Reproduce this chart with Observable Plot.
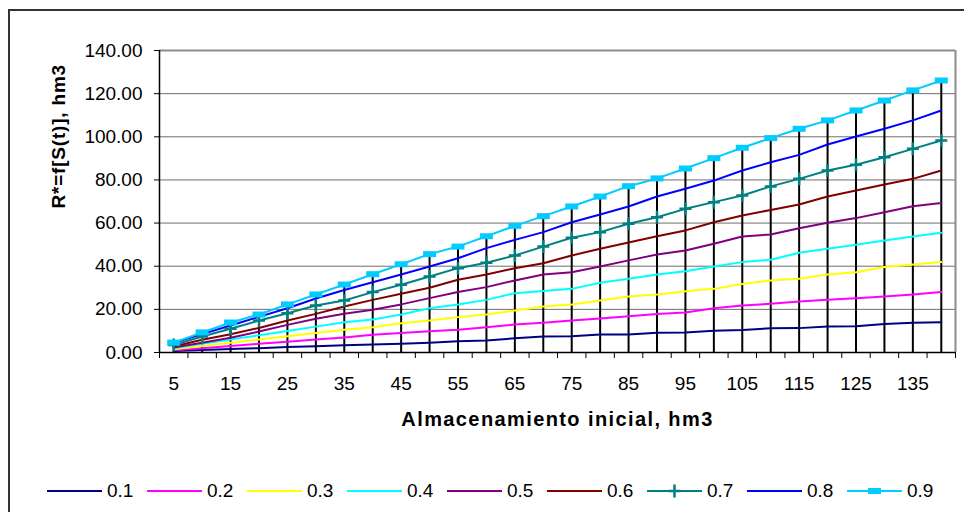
<!DOCTYPE html>
<html>
<head>
<meta charset="utf-8">
<script src="https://cdn.jsdelivr.net/npm/d3@7"></script>
<script src="https://cdn.jsdelivr.net/npm/@observablehq/plot@0.6"></script>
<style>
  html, body { margin: 0; padding: 0; background: #fff; }
  #wrap { position: relative; width: 964px; height: 512px; overflow: hidden; font-family: "Liberation Sans", Arial, sans-serif; }
  #chart { position: absolute; left: 0; top: 0; }
  #border { position: absolute; left: 8px; top: 9px; width: 1000px; height: 600px; border: 2px solid #333; box-sizing: border-box; pointer-events: none; }
  .leg { position: absolute; top: 481px; height: 20px; display: flex; align-items: center; font-size: 19px; color: #000; white-space: nowrap; }
  .leg svg { display: block; margin-right: 5px; }
</style>
</head>
<body>
<div id="wrap">
  <div id="chart"></div>
  <div id="legend"></div>
  <div id="border"></div>
</div>
<script>
// ---- data ----
const storage = [5,10,15,20,25,30,35,40,45,50,55,60,65,70,75,80,85,90,95,100,105,110,115,120,125,130,135,140];
const seriesNames = ["0.1","0.2","0.3","0.4","0.5","0.6","0.7","0.8","0.9"];
const seriesColors = ["#000080","#FF00FF","#FFFF00","#00FFFF","#800080","#800000","#008080","#0000FF","#00CCFF"];
const s01 = [0.7,1.2,1.6,2,2.5,2.9,3.4,3.7,4,4.5,5.2,5.6,6.6,7.4,7.5,8.3,8.3,9.2,9.3,10.1,10.4,11.2,11.3,12.1,12.2,13.2,13.8,14];
const s02 = [1,2,3,4,5,6,7,8.2,9,9.9,10.5,11.7,13,13.8,14.8,15.8,16.8,17.9,18.5,20.5,21.8,22.6,23.6,24.4,25.2,26,26.9,28];
const s03 = [1.5,3,4.5,6,7.5,9,10.5,11.7,13.6,14.8,16.4,17.6,19.5,21.3,22.3,24.1,26,26.9,28.4,29.5,31.8,33.4,34.2,36.2,37.2,39.6,40.8,41.9];
const s04 = [2,4,6,8,10,12,14,15.3,17.6,20.5,22.3,24.4,27.5,28.5,29.5,32.3,34.2,36.2,37.7,39.9,41.9,43,46.2,48.1,49.9,51.9,53.8,55.5];
const s05 = [2.3,4.5,6.8,9.7,12.8,15.6,18,19.8,22.3,25.2,28,30.3,33.4,36.2,37.2,39.9,42.7,45.4,47.3,50.4,53.8,54.7,57.6,60.1,62.3,65,67.8,69.3];
const s06 = [2.8,5.9,8.5,11.4,14.8,17.9,21.3,24.4,27.2,30,33.7,36.2,39.1,41.4,45,48.1,51,53.9,56.6,60.4,63.5,66.1,68.6,72.3,75.1,77.9,80.5,84.4];
const s07 = [3.5,7.4,11,14.8,18.2,21.8,24.1,28,31.4,35.2,39.1,41.6,45,49.1,53.2,55.8,59.7,62.7,66.6,69.7,72.8,77,80.5,84.4,87,90.5,94.4,98.3];
const s08 = [4.5,8.5,12.5,16.5,20.5,25,29,32.6,36.2,39.9,43.7,48.4,52.2,55.8,60.4,64,67.7,72.3,75.9,79.7,84.4,88.2,91.6,96.4,100.1,103.7,107.6,112.2];
const s09 = [4.6,9.3,13.9,17.6,22.3,26.9,31.5,36.3,40.9,45.6,49.1,53.9,58.7,63.2,67.7,72.3,77.1,80.7,85.3,90.1,94.9,99.4,103.7,107.6,112.2,116.8,121.5,126.1];
const yTicks = [0,20,40,60,80,100,120,140];
const xLabelTicks = [5,15,25,35,45,55,65,75,85,95,105,115,125,135];
const xTitle = "Almacenamiento inicial, hm3";
const yTitle = "R*=f[S(t)], hm3";

// ---- build table ----
const allSeries = [s01,s02,s03,s04,s05,s06,s07,s08,s09];
const table = [];
allSeries.forEach((vals, i) => vals.forEach((v, j) => table.push({x: storage[j], y: v, s: seriesNames[i]})));
const topRows = storage.map((x, j) => ({x, y: s09[j]}));
const s07rows = storage.map((x, j) => ({x, y: s07[j]}));
const half = 2.5;
const xBounds = [storage[0] - half, ...storage.map(d => d + half)];

const rectSymbol = { draw(ctx) { ctx.rect(-6.5, -3, 13, 6); } };
const plusSymbol = { draw(ctx) { ctx.moveTo(-6, 0); ctx.lineTo(6, 0); ctx.moveTo(0, -6.5); ctx.lineTo(0, 6.5); } };

const chart = Plot.plot({
  width: 964,
  height: 512,
  marginLeft: 159,
  marginRight: 9,
  marginTop: 50,
  marginBottom: 160,
  style: { fontFamily: "'Liberation Sans', Arial, sans-serif", fontSize: "19px", background: "transparent", color: "#000" },
  x: { type: "linear", domain: [xBounds[0], xBounds[xBounds.length - 1]] },
  y: { domain: [0, 140] },
  color: { domain: seriesNames, range: seriesColors },
  marks: [
    Plot.gridY(yTicks, { stroke: "#6e6e6e", strokeOpacity: 1, strokeWidth: 1 }),
    Plot.ruleY([140], { stroke: "#8c8c8c", strokeWidth: 2 }),
    Plot.ruleX([xBounds[xBounds.length - 1]], { stroke: "#8c8c8c", strokeWidth: 2 }),
    Plot.ruleX(topRows, { x: "x", y1: 0, y2: "y", stroke: "#000", strokeWidth: 2 }),
    Plot.line(table, { x: "x", y: "y", z: "s", stroke: "s", strokeWidth: 2 }),
    Plot.dot(s07rows, { x: "x", y: "y", symbol: plusSymbol, fill: "none", stroke: "#008080", strokeWidth: 2.5 }),
    Plot.dot(topRows, { x: "x", y: "y", symbol: rectSymbol, fill: "#00CCFF", stroke: "none" }),
    Plot.ruleY([0], { stroke: "#000", strokeWidth: 1.5 }),
    Plot.ruleX([xBounds[0]], { stroke: "#000", strokeWidth: 1.5 }),
    Plot.axisY({ ticks: yTicks, tickSize: 5, tickPadding: 12, tickFormat: d => d.toFixed(2), label: null, fontSize: 19, stroke: "#000" }),
    Plot.axisX({ ticks: xBounds, tickSize: 6, tickFormat: () => "", label: null, stroke: "#000" }),
    Plot.axisX({ ticks: xLabelTicks, tickSize: 0, tickPadding: 24, label: null, fontSize: 19 }),
    Plot.text([xTitle], { frameAnchor: "bottom", dy: 73, fontWeight: "bold", fontSize: 20, fill: "#000" }),
    Plot.text([yTitle], { frameAnchor: "left", dx: -101, dy: 7, rotate: -90, fontWeight: "bold", fontSize: 19, fill: "#000" })
  ]
});
// widen title tracking like the reference
chart.querySelectorAll("text").forEach(t => {
  if (t.textContent === xTitle) t.style.letterSpacing = "1.4px";
  if (t.textContent === yTitle) t.style.letterSpacing = "0.8px";
});
document.getElementById("chart").appendChild(chart);

// ---- legend ----
const legend = document.getElementById("legend");
seriesNames.forEach((name, i) => {
  const item = document.createElement("div");
  item.className = "leg";
  item.style.left = (47 + i * 100) + "px";
  const c = seriesColors[i];
  let marker = "";
  if (name === "0.7") marker = `<path d="M21.5 8H33.5M27.5 1.5V14.5" stroke="${c}" stroke-width="2.5" fill="none"/>`;
  if (name === "0.9") marker = `<rect x="21" y="5" width="13" height="6" fill="${c}"/>`;
  item.innerHTML = `<svg width="55" height="16"><line x1="0" y1="8" x2="55" y2="8" stroke="${c}" stroke-width="2"/>${marker}</svg><span>${name}</span>`;
  legend.appendChild(item);
});
</script>
</body>
</html>
